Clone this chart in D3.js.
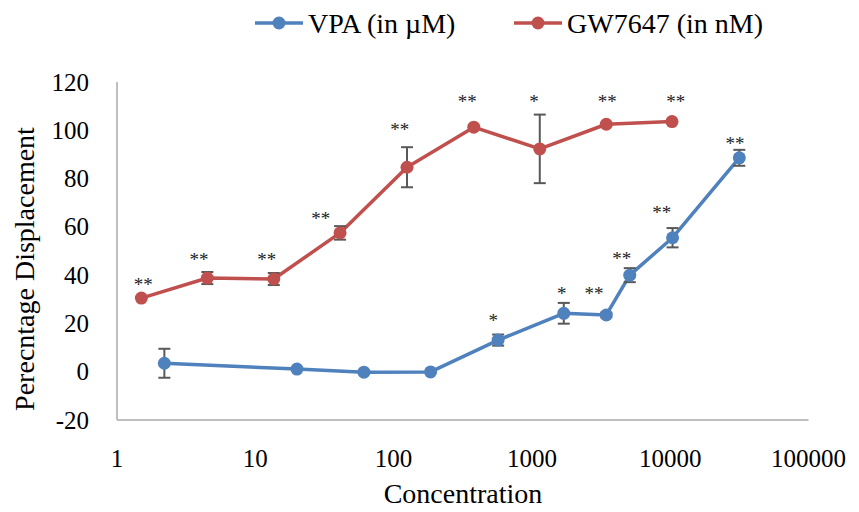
<!DOCTYPE html>
<html><head><meta charset="utf-8">
<script src="https://cdn.jsdelivr.net/npm/d3@7"></script>
<style>body{margin:0;background:#fff}svg{display:block}</style>
</head><body><svg id="c" width="859" height="512" font-family="'Liberation Serif', 'Times New Roman', 'DejaVu Serif', serif"></svg>
<script>
// ---- data ----
const seriesNames = ["VPA (in µM)", "GW7647 (in nM)"];
const vpaX   = [2.2, 20, 61, 185, 570, 1700, 3450, 5100, 10400, 31600];
const vpaY   = [3.5, 1.1, -0.2, -0.1, 13.1, 24.2, 23.5, 40, 55.5, 88.6];
const vpaErr = [6, 0, 0, 0, 2.3, 4.3, 1, 2.9, 4, 3.3];
const gwX    = [1.5, 4.5, 13.6, 41, 125, 380, 1140, 3450, 10300];
const gwY    = [30.5, 38.8, 38.4, 57.5, 84.7, 101.3, 92.3, 102.5, 103.6];
const gwErr  = [0, 2.5, 2.5, 2.8, 8.3, 0, 14.2, 0, 0];
// significance annotations (concentration, value, text)
const vpaSigX = [526, 1641, 2812, 4457, 8670, 29400];
const vpaSigY = [22.4, 33.4, 33.4, 47.9, 67, 95.7];
const vpaSigT = ["*", "*", "**", "**", "**", "**"];
const gwSigX  = [1.55, 3.92, 12.1, 29.7, 111, 341, 1036, 3510, 10960];
const gwSigY  = [37.3, 47.6, 47.6, 64.5, 101.2, 113, 113, 113, 113];
const gwSigT  = ["**", "**", "**", "**", "**", "**", "*", "**", "**"];
const xTicks = [1, 10, 100, 1000, 10000, 100000];
const yTicks = [-20, 0, 20, 40, 60, 80, 100, 120];
const xTitle = "Concentration";
const yTitle = "Perecntage Displacement";
const colors = ["#4F81BD", "#C0504D"];

// ---- chart ----
const svg = d3.select("#c");
const x = d3.scaleLog().domain([1, 100000]).range([117, 808.5]);
const y = d3.scaleLinear().domain([-20, 120]).range([420, 82]);

// axes lines
svg.append("line").attr("x1", x(1)).attr("x2", x(1)).attr("y1", y(120)).attr("y2", y(-20))
  .attr("stroke", "#BFBFBF").attr("stroke-width", 2);
svg.append("line").attr("x1", x(1)).attr("x2", x(100000)).attr("y1", y(-20)).attr("y2", y(-20))
  .attr("stroke", "#BFBFBF").attr("stroke-width", 2);

// tick labels
svg.append("g").selectAll("text").data(yTicks).join("text")
  .attr("x", 89).attr("y", d => y(d) + 8.5).attr("text-anchor", "end")
  .attr("font-size", 25).text(d => d);
svg.append("g").selectAll("text").data(xTicks).join("text")
  .attr("x", d => x(d)).attr("y", 467).attr("text-anchor", "middle")
  .attr("font-size", 25).text(d => d);

// titles
svg.append("text").attr("x", 463).attr("y", 503).attr("text-anchor", "middle")
  .attr("font-size", 28).text(xTitle);
svg.append("text").attr("transform", "translate(34,269) rotate(-90)").attr("text-anchor", "middle")
  .attr("font-size", 28).text(yTitle);

function drawSeries(xs, ys, errs, color) {
  const pts = xs.map((v, i) => ({x: v, y: ys[i], e: errs[i]}));
  const g = svg.append("g");
  g.append("path").datum(pts)
    .attr("d", d3.line().x(d => x(d.x)).y(d => y(d.y)))
    .attr("fill", "none").attr("stroke", color).attr("stroke-width", 3.5).attr("stroke-linejoin", "round");
  const eb = g.selectAll("g.eb").data(pts.filter(d => d.e > 0)).join("g");
  eb.append("line").attr("x1", d => x(d.x)).attr("x2", d => x(d.x))
    .attr("y1", d => y(d.y + d.e)).attr("y2", d => y(d.y - d.e))
    .attr("stroke", "#595959").attr("stroke-width", 2);
  [1, -1].forEach(s => {
    eb.append("line").attr("x1", d => x(d.x) - 6).attr("x2", d => x(d.x) + 6)
      .attr("y1", d => y(d.y + s * d.e)).attr("y2", d => y(d.y + s * d.e))
      .attr("stroke", "#595959").attr("stroke-width", 2);
  });
  g.selectAll("circle").data(pts).join("circle")
    .attr("cx", d => x(d.x)).attr("cy", d => y(d.y)).attr("r", 6.5).attr("fill", color);
}
drawSeries(vpaX, vpaY, vpaErr, colors[0]);
drawSeries(gwX, gwY, gwErr, colors[1]);

function drawSig(xs, ys, ts) {
  svg.append("g").selectAll("text").data(xs.map((v, i) => ({x: v, y: ys[i], t: ts[i]}))).join("text")
    .attr("x", d => x(d.x)).attr("y", d => y(d.y) + 9).attr("text-anchor", "middle")
    .attr("font-size", 19).attr("fill", "#222").text(d => d.t);
}
drawSig(vpaSigX, vpaSigY, vpaSigT);
drawSig(gwSigX, gwSigY, gwSigT);

// legend
const legX = [255, 514];
seriesNames.forEach((n, i) => {
  const g = svg.append("g").attr("transform", `translate(${legX[i]},23)`);
  g.append("line").attr("x1", 0).attr("x2", 48).attr("stroke", colors[i]).attr("stroke-width", 3.5);
  g.append("circle").attr("cx", 24).attr("r", 6.5).attr("fill", colors[i]);
  g.append("text").attr("x", 53).attr("y", 9.5).attr("font-size", 28).text(n);
});
</script></body></html>
